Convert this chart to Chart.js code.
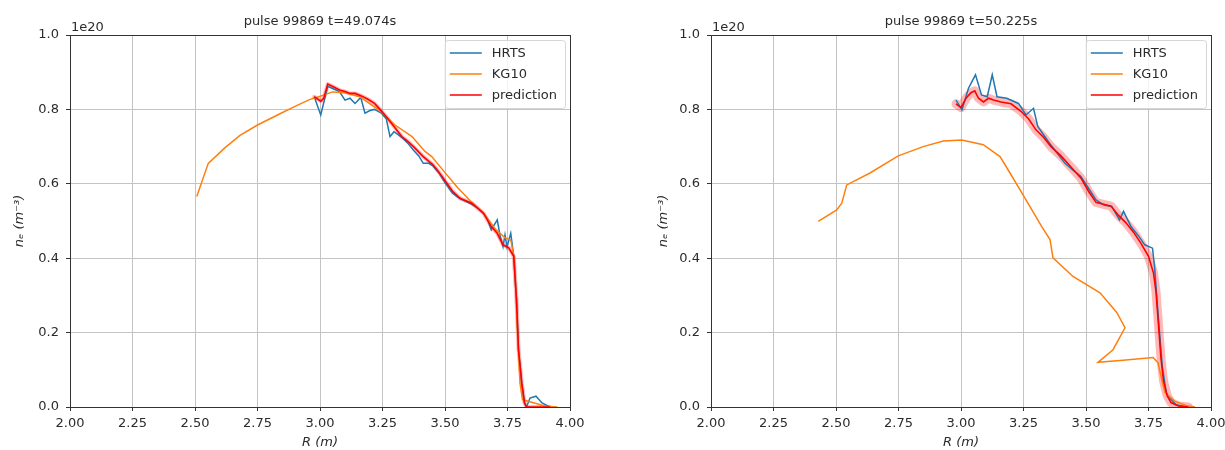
<!DOCTYPE html>
<html><head><meta charset="utf-8">
<script src="https://cdn.jsdelivr.net/npm/chart.js@4"></script>
<style>
html,body{margin:0;padding:0;background:#fff;}
#wrap{position:relative;width:1225px;height:450px;overflow:hidden;}
.c{position:absolute;top:0;height:450px;}
</style></head><body>
<div id="wrap">
<div class="c" style="left:0;width:612px"><canvas id="c1" width="612" height="450"></canvas></div>
<div class="c" style="left:612px;width:613px"><canvas id="c2" width="613" height="450"></canvas></div>
</div>
<script>
// ---------- data (n_e in units of 1e20 m^-3, R in m) ----------
const titleLeft = 'pulse 99869 t=49.074s';
const titleRight = 'pulse 99869 t=50.225s';
const seriesNames = ['HRTS', 'KG10', 'prediction'];
const xTicks = [2.00, 2.25, 2.50, 2.75, 3.00, 3.25, 3.50, 3.75, 4.00];
const xTickLabels = ['2.00', '2.25', '2.50', '2.75', '3.00', '3.25', '3.50', '3.75', '4.00'];
const yTicks = [0.0, 0.2, 0.4, 0.6, 0.8, 1.0];
const yTickLabels = ['0.0', '0.2', '0.4', '0.6', '0.8', '1.0'];

// left panel (t=49.074s)
const hrtsL_R = [2.977, 3.003, 3.031, 3.055, 3.078, 3.10, 3.12, 3.14, 3.163, 3.18, 3.20, 3.218, 3.245, 3.265, 3.28, 3.296, 3.327, 3.35, 3.374, 3.395, 3.413, 3.435, 3.452, 3.475, 3.498, 3.53, 3.56, 3.585, 3.607, 3.63, 3.654, 3.67, 3.685, 3.709, 3.72, 3.732, 3.74, 3.748, 3.763, 3.775, 3.786, 3.794, 3.807, 3.818, 3.826, 3.84, 3.864, 3.888, 3.92];
const hrtsL_ne = [0.834, 0.785, 0.862, 0.855, 0.848, 0.825, 0.83, 0.816, 0.832, 0.79, 0.797, 0.80, 0.79, 0.775, 0.727, 0.74, 0.725, 0.71, 0.69, 0.675, 0.655, 0.655, 0.648, 0.63, 0.605, 0.575, 0.56, 0.552, 0.545, 0.535, 0.52, 0.505, 0.476, 0.503, 0.462, 0.431, 0.463, 0.43, 0.467, 0.405, 0.288, 0.154, 0.064, 0.011, 0.0, 0.024, 0.029, 0.011, 0.0];
const kgL_R = [2.507, 2.553, 2.618, 2.68, 2.75, 2.842, 2.90, 2.96, 2.987, 3.05, 3.10, 3.158, 3.20, 3.237, 3.30, 3.368, 3.42, 3.447, 3.50, 3.55, 3.60, 3.65, 3.70, 3.74, 3.763, 3.778, 3.79, 3.80, 3.81, 3.857, 3.903, 3.95];
const kgL_ne = [0.566, 0.655, 0.696, 0.73, 0.758, 0.789, 0.808, 0.827, 0.832, 0.847, 0.845, 0.834, 0.815, 0.798, 0.758, 0.727, 0.687, 0.673, 0.63, 0.59, 0.555, 0.525, 0.48, 0.455, 0.449, 0.396, 0.199, 0.064, 0.02, 0.011, 0.002, 0.0];
const predL_R = [2.977, 3.003, 3.015, 3.031, 3.055, 3.078, 3.10, 3.12, 3.14, 3.163, 3.19, 3.218, 3.24, 3.265, 3.296, 3.327, 3.35, 3.374, 3.413, 3.452, 3.475, 3.498, 3.53, 3.56, 3.607, 3.654, 3.685, 3.709, 3.732, 3.755, 3.775, 3.786, 3.794, 3.807, 3.818, 3.826, 3.86, 3.92];
const predL_ne = [0.834, 0.822, 0.83, 0.868, 0.86, 0.852, 0.848, 0.843, 0.843, 0.837, 0.828, 0.816, 0.80, 0.78, 0.754, 0.727, 0.715, 0.70, 0.673, 0.651, 0.632, 0.61, 0.58, 0.561, 0.548, 0.521, 0.485, 0.467, 0.436, 0.428, 0.405, 0.288, 0.154, 0.064, 0.011, 0.0, 0.0, 0.0];

// right panel (t=50.225s)
const hrtsR_R = [2.98, 3.004, 3.03, 3.058, 3.082, 3.105, 3.125, 3.144, 3.183, 3.23, 3.26, 3.29, 3.307, 3.354, 3.385, 3.416, 3.447, 3.479, 3.51, 3.54, 3.572, 3.603, 3.634, 3.65, 3.68, 3.712, 3.735, 3.766, 3.774, 3.79, 3.805, 3.821, 3.84, 3.86, 3.899];
const hrtsR_ne = [0.825, 0.799, 0.857, 0.893, 0.839, 0.834, 0.893, 0.834, 0.83, 0.816, 0.785, 0.803, 0.754, 0.709, 0.682, 0.655, 0.637, 0.62, 0.588, 0.557, 0.543, 0.539, 0.503, 0.526, 0.485, 0.458, 0.436, 0.427, 0.378, 0.235, 0.109, 0.038, 0.02, 0.006, 0.0];
const kgR_R = [2.429, 2.503, 2.523, 2.543, 2.636, 2.749, 2.849, 2.929, 3.003, 3.089, 3.156, 3.196, 3.244, 3.323, 3.356, 3.368, 3.448, 3.556, 3.623, 3.656, 3.608, 3.548, 3.648, 3.768, 3.788, 3.803, 3.816, 3.856, 3.90, 3.936];
const kgR_ne = [0.499, 0.530, 0.548, 0.597, 0.629, 0.675, 0.700, 0.715, 0.718, 0.705, 0.673, 0.629, 0.575, 0.485, 0.450, 0.401, 0.351, 0.307, 0.254, 0.213, 0.154, 0.120, 0.126, 0.133, 0.119, 0.074, 0.039, 0.015, 0.004, 0.0];
const predR_R = [2.98, 3.0, 3.02, 3.04, 3.055, 3.07, 3.09, 3.11, 3.13, 3.16, 3.2, 3.24, 3.27, 3.3, 3.33, 3.36, 3.4, 3.44, 3.48, 3.51, 3.54, 3.57, 3.6, 3.63, 3.66, 3.69, 3.72, 3.75, 3.77, 3.78, 3.79, 3.8, 3.81, 3.825, 3.84, 3.87, 3.91];
const predR_ne = [0.815, 0.805, 0.83, 0.845, 0.85, 0.83, 0.82, 0.83, 0.825, 0.82, 0.815, 0.795, 0.775, 0.745, 0.725, 0.70, 0.675, 0.645, 0.615, 0.58, 0.55, 0.545, 0.54, 0.515, 0.495, 0.47, 0.44, 0.405, 0.36, 0.31, 0.22, 0.13, 0.07, 0.03, 0.012, 0.003, 0.0];

// ---------- styling ----------
const FONT = '"DejaVu Sans", "Liberation Sans", sans-serif';
const TXT = '#2b2b2b';
const colors = { HRTS: '#1f77b4', KG10: '#ff7f0e', prediction: '#ff0000' };

const pts = (xs, ys) => xs.map((x, i) => ({ x: x, y: ys[i] }));

const framePlugin = {
  id: 'mplFrame',
  afterDatasetsDraw(chart, args, opts) {
    const { ctx, chartArea: a } = chart;
    ctx.save();
    ctx.strokeStyle = '#333';
    ctx.lineWidth = 1;
    ctx.strokeRect(Math.round(a.left) + 0.5, Math.round(a.top) + 0.5, Math.round(a.right - a.left), Math.round(a.bottom - a.top));
    // title and offset text
    ctx.fillStyle = TXT;
    ctx.font = '13px ' + FONT;
    ctx.textAlign = 'center';
    ctx.textBaseline = 'alphabetic';
    ctx.fillText(opts.title, (a.left + a.right) / 2, 25);
    ctx.textAlign = 'left';
    ctx.fillText('1e20', a.left + 1, 30.5);
    // legend
    const items = opts.items;
    const lineLen = 32, gap = 10, padL = 5, padR = 8, rowH = 21;
    let tw = 0;
    items.forEach(it => { tw = Math.max(tw, ctx.measureText(it.label).width); });
    const w = padL + lineLen + gap + tw + padR;
    const h = rowH * items.length + 5;
    const x0 = a.right - 5 - w, y0 = a.top + 5;
    ctx.beginPath();
    if (ctx.roundRect) ctx.roundRect(x0 + 0.5, y0 + 0.5, w, h, 3); else ctx.rect(x0 + 0.5, y0 + 0.5, w, h);
    ctx.fillStyle = 'rgba(255,255,255,0.8)';
    ctx.fill();
    ctx.strokeStyle = '#d6d6d6';
    ctx.lineWidth = 1;
    ctx.stroke();
    ctx.textBaseline = 'middle';
    items.forEach((it, i) => {
      const cy = y0 + 13 + rowH * i;
      ctx.beginPath();
      ctx.strokeStyle = it.color;
      ctx.lineWidth = 1.6;
      ctx.moveTo(x0 + padL, cy);
      ctx.lineTo(x0 + padL + lineLen, cy);
      ctx.stroke();
      ctx.fillStyle = TXT;
      ctx.fillText(it.label, x0 + padL + lineLen + gap, cy + 1);
    });
    ctx.restore();
  }
};

function makeChart(id, cfg) {
  const datasets = [
    { label: 'band', data: pts(cfg.predR, cfg.predNe), borderColor: 'rgba(255,0,0,0.28)', borderWidth: cfg.bandW, borderJoinStyle: 'round', borderCapStyle: 'round', pointRadius: 0, fill: false, order: 4 },
    { label: seriesNames[0], data: pts(cfg.hrtsR, cfg.hrtsNe), borderColor: colors.HRTS, borderWidth: 1.5, pointRadius: 0, fill: false, order: 3 },
    { label: seriesNames[1], data: pts(cfg.kgR, cfg.kgNe), borderColor: colors.KG10, borderWidth: 1.5, pointRadius: 0, fill: false, order: 2 },
    { label: seriesNames[2], data: pts(cfg.predR, cfg.predNe), borderColor: colors.prediction, borderWidth: 1.6, pointRadius: 0, fill: false, order: 1 }
  ];
  return new Chart(document.getElementById(id), {
    type: 'line',
    data: { datasets },
    plugins: [framePlugin],
    options: {
      responsive: false,
      animation: false,
      devicePixelRatio: 1,
      layout: { padding: { left: cfg.padL, right: cfg.padR, top: 35, bottom: 0 } },
      elements: { line: { tension: 0 }, point: { radius: 0 } },
      plugins: {
        legend: { display: false },
        tooltip: { enabled: false },
        title: { display: false },
        mplFrame: {
          title: cfg.title,
          items: seriesNames.map(n => ({ label: n, color: colors[n] }))
        }
      },
      scales: {
        x: {
          type: 'linear', min: 2, max: 4,
          afterBuildTicks: s => { s.ticks = xTicks.map(v => ({ value: v })); },
          afterFit: s => { s.height = 43; s.paddingLeft = 0; s.paddingRight = 0; },
          ticks: { callback: (v, i) => xTickLabels[i], color: TXT, font: { family: FONT, size: 13 }, padding: 5, maxRotation: 0, autoSkip: false },
          grid: { color: '#c4c4c4', lineWidth: 1, tickColor: '#333', tickLength: 4, drawTicks: true },
          border: { display: true, color: '#333', width: 1 },
          title: { display: true, text: 'R (m)', color: TXT, font: { family: FONT, size: 13, style: 'italic' }, padding: 0 }
        },
        y: {
          type: 'linear', min: 0, max: 1,
          afterBuildTicks: s => { s.ticks = yTicks.map(v => ({ value: v })); },
          afterFit: s => { s.width = cfg.yW; s.paddingTop = 0; s.paddingBottom = 0; },
          ticks: { callback: (v, i) => yTickLabels[i], color: TXT, font: { family: FONT, size: 13 }, padding: 7, autoSkip: false },
          grid: { color: '#c4c4c4', lineWidth: 1, tickColor: '#333', tickLength: 4, drawTicks: true },
          border: { display: true, color: '#333', width: 1 },
          title: { display: true, text: 'nₑ (m⁻³)', color: TXT, font: { family: FONT, size: 13, style: 'italic' }, padding: 0 }
        }
      }
    }
  });
}

makeChart('c1', {
  title: titleLeft, padL: 12, yW: 58, padR: 42, bandW: 4,
  hrtsR: hrtsL_R, hrtsNe: hrtsL_ne, kgR: kgL_R, kgNe: kgL_ne, predR: predL_R, predNe: predL_ne
});
makeChart('c2', {
  title: titleRight, padL: 44, yW: 55, padR: 14, bandW: 9,
  hrtsR: hrtsR_R, hrtsNe: hrtsR_ne, kgR: kgR_R, kgNe: kgR_ne, predR: predR_R, predNe: predR_ne
});
</script>
</body></html>
